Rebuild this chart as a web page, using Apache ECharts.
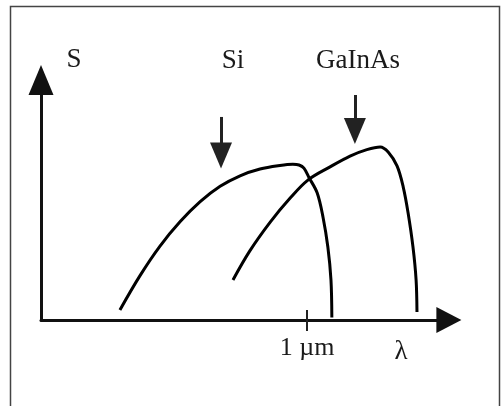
<!DOCTYPE html>
<html>
<head>
<meta charset="utf-8">
<script src="https://cdn.jsdelivr.net/npm/echarts@6/dist/echarts.min.js"></script>
<style>
  html, body { margin: 0; padding: 0; background: #fff; }
  #chart { width: 501px; height: 406px; }
</style>
</head>
<body>
<div id="chart"></div>
<script>
// Spectral responsivity S(λ) of a silicon and a GaInAs photodiode (schematic)
const siWavelength = [0.578, 0.623, 0.668, 0.714, 0.759, 0.804, 0.849, 0.894, 0.939, 0.968, 0.982, 0.993, 1.005, 1.023, 1.036, 1.047, 1.054, 1.056];
const siResponse   = [0.042, 0.184, 0.307, 0.410, 0.493, 0.557, 0.601, 0.629, 0.644, 0.649, 0.646, 0.633, 0.592, 0.529, 0.429, 0.304, 0.167, 0.010];

const gainasWavelength = [0.833, 0.871, 0.917, 0.962, 1.002, 1.052, 1.097, 1.135, 1.165, 1.183, 1.203, 1.217, 1.228, 1.239, 1.246, 1.248];
const gainasResponse   = [0.167, 0.288, 0.408, 0.508, 0.583, 0.638, 0.683, 0.710, 0.721, 0.700, 0.642, 0.554, 0.446, 0.304, 0.167, 0.033];

// Wavelength tick shown on the λ axis
const tickValues = [1];
const tickLabels = ['1 µm'];

const serif = '"Liberation Serif", "DejaVu Serif", serif';

function pairs(xs, ys) {
  return xs.map((x, i) => [x, ys[i]]);
}

// Downward pointer above a curve: [wavelength, stem top S, arrow centre S]
function pointer(at) {
  return {
    silent: true,
    animation: false,
    symbol: ['none', 'triangle'],
    symbolSize: [22, 26],
    label: { show: false },
    emphasis: { disabled: true },
    lineStyle: { color: '#222', width: 3, type: 'solid' },
    data: [[{ coord: [at[0], at[1]] }, { coord: [at[0], at[2]] }]]
  };
}

const chart = echarts.init(document.getElementById('chart'), null, { renderer: 'canvas' });

const curveStyle = { color: '#000', width: 3 };

chart.setOption({
  animation: false,
  backgroundColor: '#fff',
  grid: { left: 41, right: 52.1, top: 80, bottom: 86, containLabel: false },
  xAxis: [
    {
      type: 'value',
      min: 0.4,
      max: 1.32,
      axisLine: {
        show: true,
        onZero: false,
        symbol: ['none', 'triangle'],
        symbolSize: [26, 25],
        lineStyle: { color: '#111', width: 3 }
      },
      axisTick: { show: true, customValues: tickValues, length: 11, lineStyle: { color: '#222', width: 2 } },
      axisLabel: {
        show: true,
        customValues: tickValues,
        formatter: v => tickLabels[tickValues.indexOf(v)] || '',
        fontFamily: serif,
        fontSize: 26,
        color: '#1a1a1a',
        margin: 15
      },
      splitLine: { show: false }
    },
    {
      type: 'value',
      min: 0.4,
      max: 1.32,
      position: 'bottom',
      axisLine: { show: false },
      axisTick: { show: true, inside: true, customValues: tickValues, length: 10, lineStyle: { color: '#222', width: 2 } },
      axisLabel: { show: false },
      splitLine: { show: false }
    }
  ],
  yAxis: {
    type: 'value',
    min: 0,
    max: 1,
    axisLine: {
      show: true,
      symbol: ['none', 'triangle'],
      symbolSize: [25, 30],
      lineStyle: { color: '#111', width: 3 }
    },
    axisTick: { show: false },
    axisLabel: { show: false },
    splitLine: { show: false }
  },
  series: [
    {
      name: 'Si',
      type: 'line',
      data: pairs(siWavelength, siResponse),
      smooth: 0.35,
      showSymbol: false,
      lineStyle: curveStyle,
      markLine: pointer([0.806, 0.846, 0.685])
    },
    {
      name: 'GaInAs',
      type: 'line',
      data: pairs(gainasWavelength, gainasResponse),
      smooth: 0.35,
      showSymbol: false,
      lineStyle: curveStyle,
      markLine: pointer([1.108, 0.9375, 0.7875])
    }
  ],
  graphic: [
    {
      type: 'rect',
      silent: true,
      shape: { x: 10.5, y: 6.5, width: 489, height: 420 },
      style: { fill: 'none', stroke: '#444', lineWidth: 1.5 }
    },
    { type: 'text', x: 74, y: 60, style: { text: 'S', font: '27px ' + serif, fill: '#1a1a1a', align: 'center', verticalAlign: 'middle' } },
    { type: 'text', x: 233, y: 61, style: { text: 'Si', font: '27px ' + serif, fill: '#1a1a1a', align: 'center', verticalAlign: 'middle' } },
    { type: 'text', x: 358, y: 61, style: { text: 'GaInAs', font: '27px ' + serif, fill: '#1a1a1a', align: 'center', verticalAlign: 'middle' } },
    { type: 'text', x: 401, y: 352, style: { text: 'λ', font: '27px ' + serif, fill: '#1a1a1a', align: 'center', verticalAlign: 'middle' } }
  ]
});
</script>
</body>
</html>
